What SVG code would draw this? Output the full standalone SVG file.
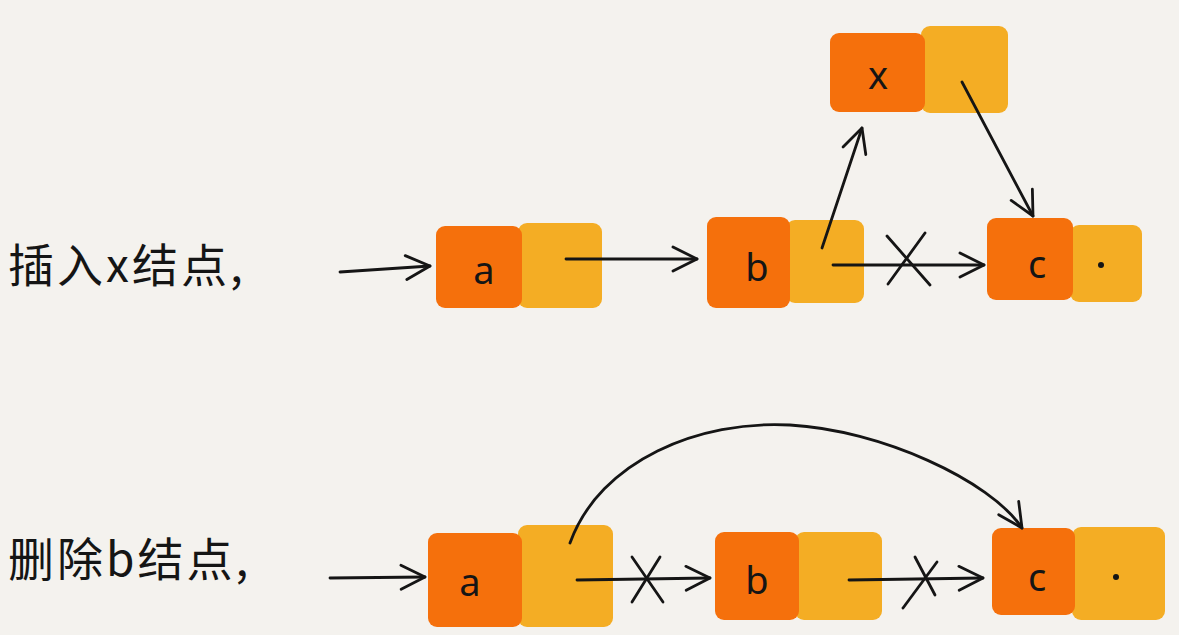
<svg xmlns="http://www.w3.org/2000/svg" width="1179" height="635" viewBox="0 0 1179 635">
<style>
.or{fill:#f5700c}
.ye{fill:#f4ad24}
.ln{fill:none;stroke:#151515;stroke-width:2.8;stroke-linecap:round;stroke-linejoin:round}
.lb{font-family:"Noto Sans","DejaVu Sans",sans-serif;font-size:38px;fill:#151515;text-anchor:middle}
.cap{font-family:"Noto Sans CJK SC","Noto Sans",sans-serif;font-size:46px;letter-spacing:3px;fill:#151515}
</style>
<defs>
<marker id="arr" viewBox="0 0 30 30" refX="28" refY="15" markerWidth="30" markerHeight="30" markerUnits="userSpaceOnUse" orient="auto">
<path d="M4,3 L28,15 L4,27" fill="none" stroke="#151515" stroke-width="2.8" stroke-linecap="round" stroke-linejoin="round"/>
</marker>
</defs>
<rect width="1179" height="635" fill="#f4f2ee"/>

<g id="label-insert"><text class="cap" x="8" y="282">插入x结点,</text></g>
<g id="label-delete"><text class="cap" x="8" y="576">删除b结点,</text></g>

<g id="top-a">
<rect class="ye" x="518" y="223" width="84" height="85" rx="9"/>
<rect class="or" x="436" y="226" width="86" height="82" rx="9"/>
<text class="lb" x="484" y="284">a</text>
</g>
<g id="top-b">
<rect class="ye" x="786" y="220" width="78" height="83" rx="9"/>
<rect class="or" x="707" y="217" width="83" height="91" rx="9"/>
<text class="lb" x="757" y="281">b</text>
</g>
<g id="top-c">
<rect class="ye" x="1070" y="225" width="72" height="77" rx="9"/>
<rect class="or" x="987" y="218" width="86" height="82" rx="9"/>
<text class="lb" x="1037" y="278">c</text>
<circle cx="1101" cy="265" r="3" fill="#151515"/>
</g>
<g id="top-x">
<rect class="ye" x="921" y="26" width="87" height="87" rx="9"/>
<rect class="or" x="830" y="33" width="95" height="79" rx="9"/>
<text class="lb" x="878" y="89">x</text>
</g>

<g id="bot-a">
<rect class="ye" x="518" y="525" width="95" height="102" rx="9"/>
<rect class="or" x="428" y="533" width="94" height="94" rx="9"/>
<text class="lb" x="470" y="596">a</text>
</g>
<g id="bot-b">
<rect class="ye" x="795" y="532" width="87" height="88" rx="9"/>
<rect class="or" x="715" y="532" width="84" height="88" rx="9"/>
<text class="lb" x="757" y="594">b</text>
</g>
<g id="bot-c">
<rect class="ye" x="1072" y="527" width="93" height="93" rx="9"/>
<rect class="or" x="992" y="528" width="83" height="87" rx="9"/>
<text class="lb" x="1037" y="591">c</text>
<circle cx="1116" cy="577" r="3" fill="#151515"/>
</g>

<g id="connectors">
<line class="ln" x1="340" y1="272" x2="430" y2="266" marker-end="url(#arr)"/>
<line class="ln" x1="566" y1="259" x2="697" y2="259" marker-end="url(#arr)"/>
<line class="ln" x1="822" y1="248" x2="862" y2="128" marker-end="url(#arr)"/>
<line class="ln" x1="833" y1="265" x2="984" y2="265" marker-end="url(#arr)"/>
<line class="ln" x1="887" y1="236" x2="930" y2="285"/>
<line class="ln" x1="925" y1="233" x2="888" y2="284"/>
<line class="ln" x1="962" y1="82" x2="1033" y2="216" marker-end="url(#arr)"/>

<line class="ln" x1="330" y1="578" x2="425" y2="577" marker-end="url(#arr)"/>
<line class="ln" x1="577" y1="580" x2="710" y2="578" marker-end="url(#arr)"/>
<line class="ln" x1="632" y1="557" x2="663" y2="602"/>
<line class="ln" x1="660" y1="557" x2="632" y2="602"/>
<path class="ln" d="M570,543 C600,460 700,420 790,425 C880,430 990,480 1022,528" marker-end="url(#arr)"/>
<line class="ln" x1="849" y1="580" x2="983" y2="578" marker-end="url(#arr)"/>
<line class="ln" x1="915" y1="557" x2="935" y2="595"/>
<line class="ln" x1="937" y1="562" x2="903" y2="608"/>
</g>
</svg>
